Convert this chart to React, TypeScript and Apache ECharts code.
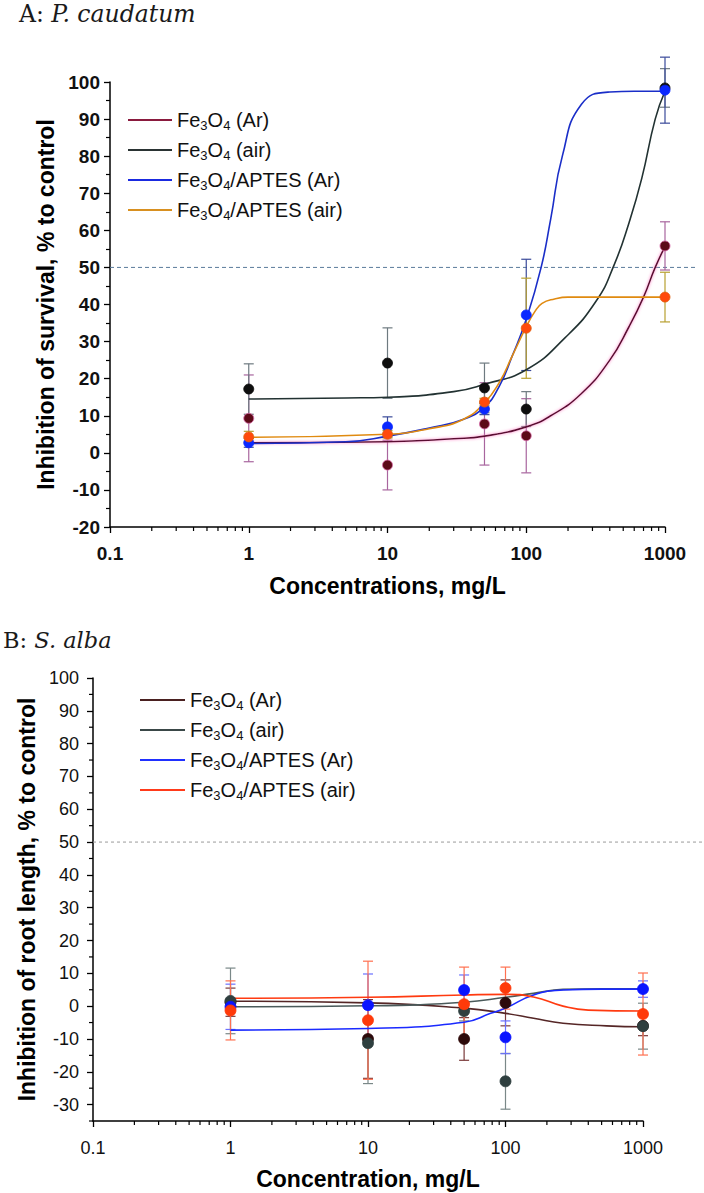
import React, { useEffect, useRef } from "react";
import * as echarts from "echarts";

// ---------- shared ----------
const concentrations = [1, 10, 50, 100, 1000];
const seriesLabels = ["Fe3O4 (Ar)", "Fe3O4 (air)", "Fe3O4/APTES (Ar)", "Fe3O4/APTES (air)"];
const xMin = 0.1;
const xMax = 1000;
const logMinorTicks = [0.2, 0.3, 0.4, 0.5, 0.6, 0.7, 0.8, 0.9, 2, 3, 4, 5, 6, 7, 8, 9, 20, 30, 40, 50, 60, 70, 80, 90, 200, 300, 400, 500, 600, 700, 800, 900];
const halfLine = 50;

// ---------- Panel A: P. caudatum ----------
const aYMin = -20;
const aYMax = 100;
const aFeArMean = [9.3, -3.3, 7.8, 4.6, 55.8];
const aFeArSd = [11.7, 6.7, 11.1, 10, 6.5];
const aFeAirMean = [17.2, 24.2, 17.5, 11.8, 98.4];
const aFeAirSd = [6.8, 9.5, 6.7, 4.7, 5.2];
const aAptArMean = [2.7, 7, 11.8, 37.2, 97.8];
const aAptArSd = [1.2, 2.7, 1.5, 15, 8.9];
const aAptAirMean = [4.3, 5, 13.7, 33.6, 42];
const aAptAirSd = [1.5, 1, 1, 13.5, 6.7];

const aFeArFitX = [1, 10, 30, 50, 100, 150, 250, 400, 550, 700, 850, 1000];
const aFeArFitY = [2.7, 3, 3.8, 4.5, 7, 10, 16, 25, 34, 42, 50, 55.6];
const aFeAirFitX = [1, 5, 10, 30, 50, 100, 190, 320, 430, 550, 680, 850, 1000];
const aFeAirFitY = [14.5, 14.8, 15, 16.5, 18.5, 22.4, 31, 41, 50.7, 62, 74, 90, 97.5];
const aAptArFitX = [1, 5, 10, 20, 35, 50, 64, 79, 100, 128, 150, 182, 250, 400, 600, 1000];
const aAptArFitY = [2.5, 3, 4.5, 6.7, 9, 12.4, 18, 26, 36, 50, 63, 80, 94, 97.3, 97.5, 97.5];
const aAptAirFitX = [1, 10, 20, 35, 50, 64, 79, 100, 115, 130, 160, 200, 400, 1000];
const aAptAirFitY = [4.2, 5, 6.5, 9, 13.5, 19, 26, 34, 38, 40.3, 41.5, 42, 42, 42];

// ---------- Panel B: S. alba ----------
const bYMin = -35;
const bYMax = 100;
const bYLabels = [-30, -20, -10, 0, 10, 20, 30, 40, 50, 60, 70, 80, 90, 100];
const bYMinor = [-35, -25, -15, -5, 5, 15, 25, 35, 45, 55, 65, 75, 85, 95];
const bFeArMean = [1.2, -10, -10, 1, -6];
const bFeArSd = [4.3, 12, 6.5, 7, 3];
const bFeAirMean = [1.6, -11.3, -1.5, -22.9, -6.1];
const bFeAirSd = [10, 12.3, 3, 8.5, 7];
const bAptArMean = [-0.2, 0.3, 4.9, -9.5, 5.2];
const bAptArSd = [6.9, 9.5, 4.6, 5, 2.5];
const bAptAirMean = [-1.3, -4.3, 0.6, 5.5, -2.4];
const bAptAirSd = [9, 18, 11.3, 6.4, 12.5];

const bFeArFitX = [1, 10, 50, 100, 160, 262, 543, 1000];
const bFeArFitY = [1.5, 1, -0.6, -2.2, -3.7, -5.2, -6, -6.3];
const bFeAirFitX = [1, 10, 50, 100, 160, 262, 500, 1000];
const bFeAirFitY = [-0.2, 0.1, 1.2, 2.7, 3.9, 5.1, 5.3, 5.3];
const bAptArFitX = [1, 10, 50, 78, 100, 160, 262, 500, 1000];
const bAptArFitY = [-7.3, -6.8, -4.9, -2.2, -0.6, 3.4, 4.9, 5.2, 5.2];
const bAptAirFitX = [1, 10, 50, 100, 160, 262, 400, 1000];
const bAptAirFitY = [2.4, 2.7, 3.4, 3.6, 2.8, 0, -1.2, -1.5];

const SANS = "'Liberation Sans', Arial, Helvetica, sans-serif";
const SERIF = "'DejaVu Serif', 'Liberation Serif', serif";

type Style = {
  marker: string;
  border: string;
  line: string;
  err: string;
  legend: string;
  halo?: string;
};

const aStyles: Style[] = [
  { marker: "#5c0a18", border: "#d86aa8", line: "#5a1030", err: "#a8659e", legend: "#8a1a3e", halo: "#ff7cc4" },
  { marker: "#0e0e0e", border: "#0e0e0e", line: "#223232", err: "#6e7a80", legend: "#2a3333" },
  { marker: "#0a28ff", border: "#0a28ff", line: "#1a2ec8", err: "#3a4a9a", legend: "#1a2ae0" },
  { marker: "#ff4a0c", border: "#e0600c", line: "#e08a10", err: "#b8a030", legend: "#d89020" },
];
const bStyles: Style[] = [
  { marker: "#2d0a0a", border: "#2d0a0a", line: "#552626", err: "#7a3a3a", legend: "#4a2020" },
  { marker: "#2f3f3f", border: "#2f3f3f", line: "#4a5a5a", err: "#7a8888", legend: "#3a4848" },
  { marker: "#0a14ff", border: "#0a14ff", line: "#1a2aff", err: "#6a70ff", legend: "#2030ff" },
  { marker: "#ff3a0a", border: "#ff3a0a", line: "#ff3a10", err: "#ff7050", legend: "#ff3a1a" },
];

const toRich = (label: string) => label.replace(/(\d)/g, "{s|$1}");

const errorBarRender = (color: string, capHalf: number) => (params: any, api: any) => {
  const x = api.value(0);
  const pLo = api.coord([x, api.value(1)]);
  const pHi = api.coord([x, api.value(2)]);
  const style = { stroke: color, lineWidth: 1.2 };
  return {
    type: "group",
    children: [
      { type: "line", shape: { x1: pLo[0], y1: pLo[1], x2: pHi[0], y2: pHi[1] }, style },
      { type: "line", shape: { x1: pLo[0] - capHalf, y1: pLo[1], x2: pLo[0] + capHalf, y2: pLo[1] }, style },
      { type: "line", shape: { x1: pHi[0] - capHalf, y1: pHi[1], x2: pHi[0] + capHalf, y2: pHi[1] }, style },
    ],
  };
};

const xMinorRender = (len: number) => (params: any, api: any) => {
  const p = api.coord([api.value(0), api.value(1)]);
  return {
    type: "line",
    shape: { x1: p[0], y1: p[1], x2: p[0], y2: p[1] + len },
    style: { stroke: "#000", lineWidth: 1.2 },
  };
};

const yMinorRender = (len: number) => (params: any, api: any) => {
  const p = api.coord([api.value(0), api.value(1)]);
  return {
    type: "line",
    shape: { x1: p[0], y1: p[1], x2: p[0] - len, y2: p[1] },
    style: { stroke: "#000", lineWidth: 1.2 },
  };
};

const refLineRender = (ext: number, color: string, dash: number[]) => (params: any, api: any) => {
  const p1 = api.coord([xMin, api.value(1)]);
  const p2 = api.coord([xMax, api.value(1)]);
  return {
    type: "line",
    shape: { x1: p1[0], y1: p1[1], x2: p2[0] + ext, y2: p2[1] },
    style: { stroke: color, lineWidth: 1, lineDash: dash },
  };
};

function buildPanel(
  idx: number,
  prefix: string,
  means: number[][],
  sds: number[][],
  fitX: number[][],
  fitY: number[][],
  styles: Style[],
  symbolSize: number,
  yMinVal: number,
  refColor: string,
  refExt: number,
  refDash: number[]
) {
  const series: any[] = [];
  series.push({
    type: "custom",
    name: prefix + "ref",
    xAxisIndex: idx,
    yAxisIndex: idx,
    data: [[xMin, halfLine]],
    encode: { x: 0, y: 1 },
    renderItem: refLineRender(refExt, refColor, refDash),
    clip: false,
    silent: true,
    z: 1,
  });
  series.push({
    type: "custom",
    name: prefix + "xminor",
    xAxisIndex: idx,
    yAxisIndex: idx,
    data: logMinorTicks.map((v) => [v, yMinVal]),
    encode: { x: 0, y: 1 },
    renderItem: xMinorRender(4),
    clip: false,
    silent: true,
    z: 1,
  });
  for (let k = 0; k < 4; k++) {
    series.push({
      type: "custom",
      name: prefix + "err" + k,
      xAxisIndex: idx,
      yAxisIndex: idx,
      data: concentrations.map((c, i) => [c, means[k][i] - sds[k][i], means[k][i] + sds[k][i]]),
      encode: { x: 0, y: [1, 2] },
      renderItem: errorBarRender(styles[k].err, 5),
      clip: false,
      silent: true,
      z: 2,
    });
  }
  for (let k = 0; k < 4; k++) {
    const st = styles[k];
    const lineStyle: any = { color: st.line, width: 1.6 };
    if (st.halo) {
      lineStyle.shadowColor = st.halo;
      lineStyle.shadowBlur = 3;
    }
    series.push({
      type: "line",
      name: prefix + seriesLabels[k],
      xAxisIndex: idx,
      yAxisIndex: idx,
      data: fitX[k].map((x, i) => [x, fitY[k][i]]),
      smooth: 0.5,
      showSymbol: false,
      symbol: "none",
      color: st.legend,
      itemStyle: { color: st.legend },
      lineStyle,
      silent: true,
      z: 3,
    });
  }
  for (let k = 0; k < 4; k++) {
    const st = styles[k];
    series.push({
      type: "scatter",
      name: prefix + "pts" + k,
      xAxisIndex: idx,
      yAxisIndex: idx,
      data: concentrations.map((c, i) => [c, means[k][i]]),
      symbol: "circle",
      symbolSize,
      itemStyle: { color: st.marker, borderColor: st.border, borderWidth: 0.8, opacity: 1 },
      silent: true,
      z: 4,
    });
  }
  return series;
}

function axisX(idx: number, name: string, bold: boolean, labelSize: number, labelMargin: number, nameGap: number) {
  return {
    type: "log",
    logBase: 10,
    gridIndex: idx,
    min: xMin,
    max: xMax,
    axisLine: { show: true, onZero: false, lineStyle: { color: "#000", width: 1.5 } },
    axisTick: { show: true, inside: false, length: 6, lineStyle: { color: "#000", width: 1.3 } },
    minorTick: { show: false },
    splitLine: { show: false },
    axisLabel: {
      color: "#111",
      fontFamily: SANS,
      fontSize: labelSize,
      fontWeight: bold ? "bold" : "normal",
      margin: labelMargin,
      formatter: (v: number) => String(Number(Number(v).toPrecision(6))),
    },
    name,
    nameLocation: "middle",
    nameGap,
    nameTextStyle: { color: "#000", fontFamily: SANS, fontSize: 23, fontWeight: "bold" },
  };
}

export default function App() {
  const ref = useRef<HTMLDivElement | null>(null);

  useEffect(() => {
    if (!ref.current) return;
    const chart = echarts.init(ref.current, undefined, { renderer: "svg" });

    const aSeries = buildPanel(
      0,
      "A ",
      [aFeArMean, aFeAirMean, aAptArMean, aAptAirMean],
      [aFeArSd, aFeAirSd, aAptArSd, aAptAirSd],
      [aFeArFitX, aFeAirFitX, aAptArFitX, aAptAirFitX],
      [aFeArFitY, aFeAirFitY, aAptArFitY, aAptAirFitY],
      aStyles,
      10,
      aYMin,
      "#5a7a9a",
      32,
      [4, 3]
    );
    const bSeries = buildPanel(
      1,
      "B ",
      [bFeArMean, bFeAirMean, bAptArMean, bAptAirMean],
      [bFeArSd, bFeAirSd, bAptArSd, bAptAirSd],
      [bFeArFitX, bFeAirFitX, bAptArFitX, bAptAirFitX],
      [bFeArFitY, bFeAirFitY, bAptArFitY, bAptAirFitY],
      bStyles,
      11,
      bYMin,
      "#9a9a9a",
      62,
      [3, 3]
    );
    bSeries.push({
      type: "custom",
      name: "B yminor",
      xAxisIndex: 1,
      yAxisIndex: 1,
      data: bYMinor.map((v) => [xMin, v]),
      encode: { x: 0, y: 1 },
      renderItem: yMinorRender(4),
      clip: false,
      silent: true,
      z: 1,
    });

    const legendRich = (size: number) => ({
      s: { fontSize: Math.round(size * 0.65), fontFamily: SANS, color: "#111", padding: [Math.round(size * 0.5), 0, 0, 0] },
    });

    const titleRich = (size: number) => ({
      n: { fontFamily: SERIF, fontSize: size, fontWeight: "normal", color: "#1a1a1a" },
      i: { fontFamily: SERIF, fontSize: size, fontWeight: "normal", fontStyle: "italic", color: "#1a1a1a" },
    });

    const option: any = {
      animation: false,
      backgroundColor: "#ffffff",
      title: [
        {
          text: "{n|A: }{i|P. caudatum}",
          left: 19,
          top: 2,
          padding: 0,
          textStyle: { fontWeight: "normal", rich: titleRich(23.5) },
        },
        {
          text: "{n|B: }{i|S. alba}",
          left: 3,
          top: 628,
          padding: 0,
          textStyle: { fontWeight: "normal", rich: titleRich(22.5) },
        },
      ],
      legend: [
        {
          orient: "vertical",
          left: 123,
          top: 103,
          itemWidth: 44,
          itemHeight: 2,
          itemGap: 6,
          icon: "rect",
          selectedMode: false,
          data: seriesLabels.map((l) => "A " + l),
          formatter: (name: string) => toRich(name.slice(2)),
          textStyle: { fontFamily: SANS, fontSize: 20, color: "#111", lineHeight: 24, rich: legendRich(20) },
        },
        {
          orient: "vertical",
          left: 135,
          top: 683,
          itemWidth: 45,
          itemHeight: 2,
          itemGap: 6,
          icon: "rect",
          selectedMode: false,
          data: seriesLabels.map((l) => "B " + l),
          formatter: (name: string) => toRich(name.slice(2)),
          textStyle: { fontFamily: SANS, fontSize: 20, color: "#111", lineHeight: 24, rich: legendRich(20) },
        },
      ],
      grid: [
        { left: 110, right: 39, top: 82, bottom: 666, containLabel: false },
        { left: 93, right: 61, top: 678, bottom: 72, containLabel: false },
      ],
      xAxis: [
        axisX(0, "Concentrations, mg/L", true, 19, 17, 47),
        axisX(1, "Concentration, mg/L", false, 18, 18, 46),
      ],
      yAxis: [
        {
          type: "value",
          gridIndex: 0,
          min: aYMin,
          max: aYMax,
          interval: 10,
          axisLine: { show: true, onZero: false, lineStyle: { color: "#000", width: 1.5 } },
          axisTick: { show: true, inside: false, length: 6, lineStyle: { color: "#000", width: 1.3 } },
          minorTick: { show: true, splitNumber: 2, length: 4, lineStyle: { color: "#000", width: 1.2 } },
          splitLine: { show: false },
          minorSplitLine: { show: false },
          axisLabel: { color: "#111", fontFamily: SANS, fontSize: 19, fontWeight: "bold", margin: 10 },
          name: "Inhibition of survival, % to control",
          nameLocation: "middle",
          nameGap: 52,
          nameRotate: 90,
          nameTextStyle: { color: "#000", fontFamily: SANS, fontSize: 23, fontWeight: "bold" },
        },
        {
          type: "value",
          gridIndex: 1,
          min: bYMin,
          max: bYMax,
          axisLine: { show: true, onZero: false, lineStyle: { color: "#000", width: 1.5 } },
          axisTick: { show: true, inside: false, length: 6, customValues: bYLabels, lineStyle: { color: "#000", width: 1.3 } },
          splitLine: { show: false },
          axisLabel: { color: "#111", fontFamily: SANS, fontSize: 18, margin: 14, customValues: bYLabels },
          name: "Inhibition of root length, % to control",
          nameLocation: "middle",
          nameGap: 52,
          nameRotate: 90,
          nameTextStyle: { color: "#000", fontFamily: SANS, fontSize: 23, fontWeight: "bold" },
        },
      ],
      series: [...aSeries, ...bSeries],
    };

    chart.setOption(option);
    return () => {
      chart.dispose();
    };
  }, []);

  return (
    <div
      ref={ref}
      style={{ position: "absolute", left: 0, top: 0, width: 704, height: 1193, background: "#fff" }}
    />
  );
}
